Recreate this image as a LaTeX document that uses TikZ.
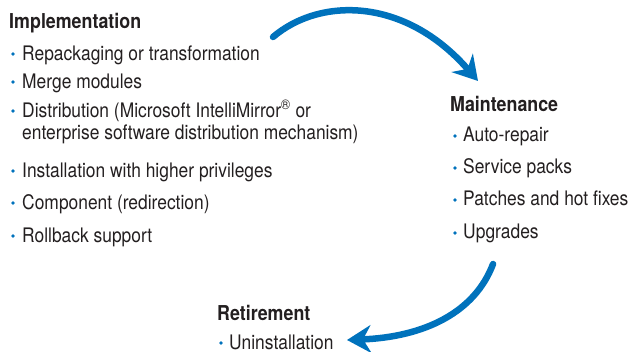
\documentclass[tikz,border=0pt]{standalone}
\usepackage{fontspec}
\setmainfont{TeX Gyre Heros}[FakeStretch=0.87]
\usetikzlibrary{arrows.meta}
\definecolor{mblue}{RGB}{0,114,188}
\definecolor{mtext}{RGB}{35,31,32}
\begin{document}
\begin{tikzpicture}[x=1pt,y=-1pt,
  head/.style={anchor=base west,inner sep=0pt,font=\fontsize{20.5}{22}\selectfont\bfseries,text=mtext},
  itm/.style={anchor=base west,inner sep=0pt,font=\fontsize{20}{22}\selectfont,text=mtext},
  dot/.style={circle,fill=mblue,inner sep=0pt,minimum size=3.6pt},
  flow/.style={draw=mblue,line width=6.5pt,line cap=round,-{Stealth[length=24pt,width=28pt,inset=8pt]}}]
\useasboundingbox (0,0) rectangle (628,352);
% Implementation
\node[head] (impl) at (9,29) {Implementation};
\node[itm] (i1) at (22,61) {Repackaging or transformation};
\node[itm] (i2) at (22,89) {Merge modules};
\node[itm] (i3) at (22,117.5) {Distribution (Microsoft IntelliMirror\textsuperscript{®} or};
\node[itm] (i3b) at (22,139.5) {enterprise software distribution mechanism)};
\node[itm] (i4) at (22,177.5) {Installation with higher privileges};
\node[itm] (i5) at (22,209.5) {Component (redirection)};
\node[itm] (i6) at (22,242.5) {Rollback support};
\foreach \n/\y in {1/54,2/82,3/111,4/171,5/203,6/236}
  \node[dot] (di\n) at (13,\y) {};
% Maintenance
\node[head] (maint) at (450,112) {Maintenance};
\node[itm] (m1) at (463,142) {Auto-repair};
\node[itm] (m2) at (463,174) {Service packs};
\node[itm] (m3) at (463,206) {Patches and hot fixes};
\node[itm] (m4) at (463,239) {Upgrades};
\foreach \n/\y in {1/136,2/168,3/200,4/233}
  \node[dot] (dm\n) at (455,\y) {};
% Retirement
\node[head] (ret) at (217,320) {Retirement};
\node[itm] (r1) at (229,349) {Uninstallation};
\node[dot] (dr1) at (221,343) {};
% arrows
\coordinate (a1s) at (273,37);
\coordinate (a1e) at (478,81);
\coordinate (a2s) at (493,264);
\coordinate (a2e) at (347,340);
\draw[flow] (a1s) .. controls (320,-3) and (405,-3) .. (a1e);
\draw[flow] (a2s) .. controls (475,312) and (425,337) .. (a2e);
\end{tikzpicture}
\end{document}
